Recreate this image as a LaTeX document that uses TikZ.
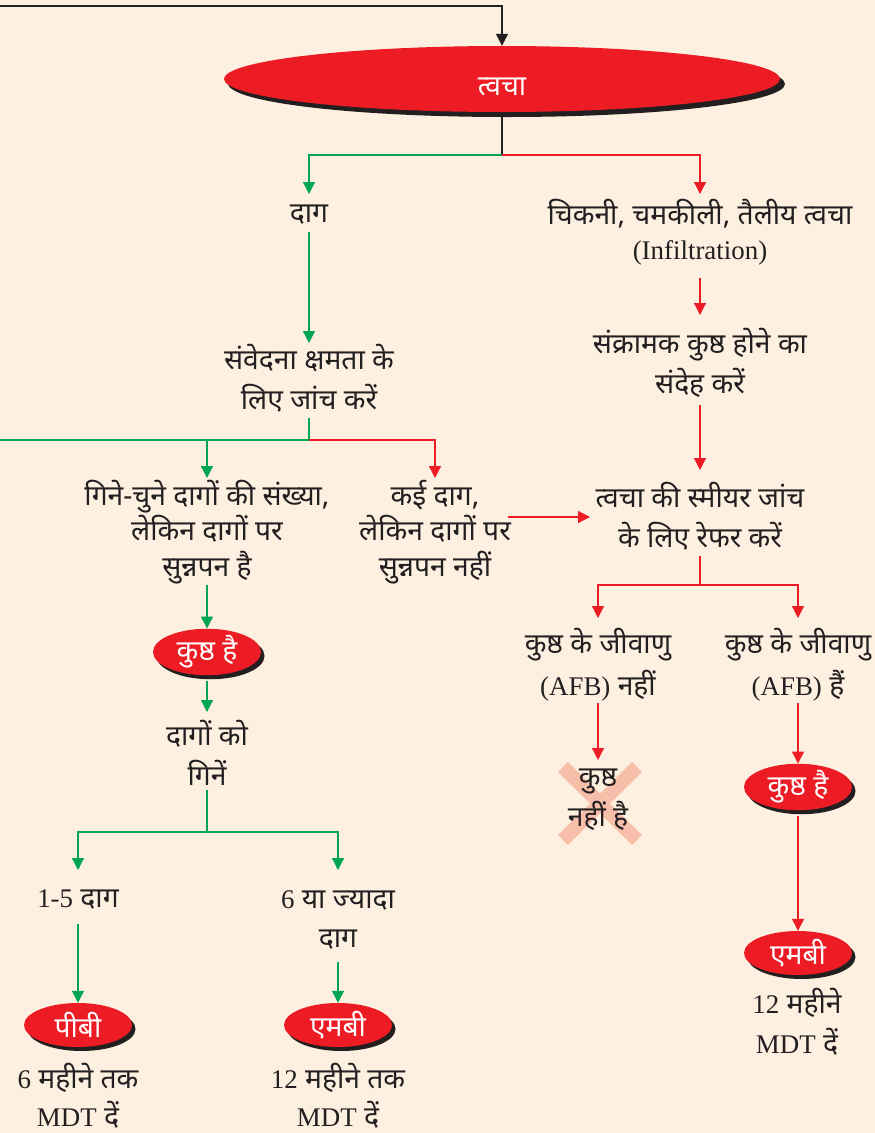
\documentclass[tikz,border=0pt]{standalone}
\usepackage{fontspec}
\setmainfont{Liberation Serif}
\newfontfamily\dv[Script=Devanagari,Scale=1.05]{Noto Sans}
\usetikzlibrary{arrows.meta,shapes.geometric,shadows,calc}
\definecolor{bgc}{RGB}{253,240,225}
\definecolor{redc}{RGB}{237,28,36}
\definecolor{greenc}{RGB}{0,166,81}
\definecolor{crossc}{RGB}{247,190,170}
\definecolor{inkc}{RGB}{35,31,32}
\newcommand{\lt}[1]{{\rmfamily #1}}
\begin{document}
\begin{tikzpicture}[x=1bp,y=-1bp,
  txt/.style={font=\fontsize{27}{40}\selectfont\dv, align=center, inner sep=0, text=inkc},
  txttight/.style={txt, font=\fontsize{27}{36}\selectfont\dv},
  redell/.style={ellipse, fill=redc, text=white, inner sep=0, minimum width=108bp, minimum height=44bp,
    font=\fontsize{27}{30}\selectfont\dv,
    drop shadow={shadow xshift=3.5bp, shadow yshift=-4bp, opacity=1, fill=inkc}},
  garrow/.style={draw=greenc, line width=1.2bp, -{Triangle[width=12bp,length=12bp]}},
  rarrow/.style={draw=redc, line width=1.2bp, -{Triangle[width=12bp,length=12bp]}},
  barrow/.style={draw=inkc, line width=1.2bp, -{Triangle[width=12bp,length=12bp]}},
  gline/.style={draw=greenc, line width=1.2bp},
  rline/.style={draw=redc, line width=1.2bp},
  bline/.style={draw=inkc, line width=1.2bp}]
\fill[bgc] (0,0) rectangle (875,1133);
\useasboundingbox (0,0) rectangle (875,1133);

% main ellipse
\node[redell, minimum width=556bp, minimum height=66bp, text height=32bp, text depth=0bp,
  drop shadow={shadow xshift=5bp, shadow yshift=-5bp, opacity=1, fill=inkc}] (skin) at (502,79) {त्वचा};
\coordinate (topL) at (0,6);
\draw[barrow] (topL) -| (skin.north);
\coordinate (j1) at (502,155);
\draw[bline] (skin.south) -- (j1);

% level 1
\node[txt] (dag) at (309,215) {दाग};
\node[txt, font=\fontsize{27}{35}\selectfont\dv] (oily) at (700,232) {चिकनी, चमकीली, तैलीय त्वचा\\\lt{(Infiltration)}};
\draw[garrow] (j1) -| ($(dag)+(0,-21)$);
\draw[rarrow] (j1) -| ($(oily)+(0,-38)$);

\node[txt] (samv) at (309,378) {संवेदना क्षमता के\\लिए जांच करें};
\draw[garrow] ($(dag)+(0,17)$) -- ($(samv)+(0,-35)$);

\node[txt] (sankr) at (700,363) {संक्रामक कुष्ठ होने का\\संदेह करें};
\draw[rarrow] ($(oily)+(0,46)$) -- ($(sankr)+(0,-48)$);

\node[txt] (smear) at (700,516) {त्वचा की स्मीयर जांच\\के लिए रेफर करें};
\draw[rarrow] ($(sankr)+(0,42)$) -- ($(smear)+(0,-46)$);

% left branch
\coordinate (j2) at (309,440);
\coordinate (leftG) at (0,440);
\draw[gline] ($(samv)+(0,40)$) -- (j2);
\draw[gline] (j2) -- (leftG);
\node[txttight] (few) at (207,532) {गिने-चुने दागों की संख्या,\\लेकिन दागों पर\\सुन्नपन है};
\node[txttight] (many) at (435,532) {कई दाग,\\लेकिन दागों पर\\सुन्नपन नहीं};
\draw[garrow] (j2) -| ($(few)+(0,-54)$);
\draw[rarrow] (j2) -| ($(many)+(0,-54)$);
\draw[rarrow] ($(many)+(73,-15)$) -- ($(smear)+(-110,1)$);

\node[redell] (kushtA) at (207,652) {कुष्ठ है};
\draw[garrow] ($(few)+(0,53)$) -- (kushtA.north);

\node[txt] (count) at (207,753) {दागों को\\गिनें};
\draw[garrow] ($(kushtA.south)+(0,6)$) -- ($(count)+(0,-41)$);

\coordinate (j3) at (207,832);
\draw[gline] ($(count)+(0,37)$) -- (j3);
\node[txt] (one5) at (78,900) {\lt{1-5} दाग};
\node[txt] (six) at (338,920) {\lt{6} या ज्यादा\\दाग};
\draw[garrow] (j3) -| ($(one5)+(0,-30)$);
\draw[garrow] (j3) -| ($(six)+(0,-50)$);

\node[redell] (pb) at (78,1025) {पीबी};
\node[redell] (mbA) at (338,1025) {एमबी};
\draw[garrow] ($(one5)+(0,24)$) -- (pb.north);
\draw[garrow] ($(six)+(0,42)$) -- (mbA.north);

\node[txt, font=\fontsize{27}{38}\selectfont\dv] (pbtxt) at (78,1096) {\lt{6} महीने तक\\\lt{MDT} दें};
\node[txt, font=\fontsize{27}{38}\selectfont\dv] (mbtxt) at (338,1096) {\lt{12} महीने तक\\\lt{MDT} दें};

% right branch
\coordinate (j4) at (700,585);
\draw[rline] ($(smear)+(0,40)$) -- (j4);
\node[txt, font=\fontsize{27}{42}\selectfont\dv] (afbno) at (598,665) {कुष्ठ के जीवाणु\\\lt{(AFB)} नहीं};
\node[txt, font=\fontsize{27}{42}\selectfont\dv] (afbyes) at (798,665) {कुष्ठ के जीवाणु\\\lt{(AFB)} हैं};
\draw[rarrow] (j4) -| ($(afbno)+(0,-47)$);
\draw[rarrow] (j4) -| ($(afbyes)+(0,-47)$);

% crossed out
\draw[crossc, line width=14bp] (563,767) -- (637,840);
\draw[crossc, line width=14bp] (637,767) -- (563,840);
\node[txt] (notk) at (598,800) {कुष्ठ\\नहीं है};
\draw[rarrow] ($(afbno)+(0,38)$) -- ($(notk)+(0,-40)$);

\node[redell] (kushtB) at (798,787) {कुष्ठ है};
\draw[rarrow] ($(afbyes)+(0,38)$) -- (kushtB.north);
\node[redell] (mbB) at (798,953) {एमबी};
\draw[rarrow] ($(kushtB.south)+(0,6)$) -- (mbB.north);
\node[txt] (mbBtxt) at (797,1022) {\lt{12} महीने\\\lt{MDT} दें};
\end{tikzpicture}
\end{document}
